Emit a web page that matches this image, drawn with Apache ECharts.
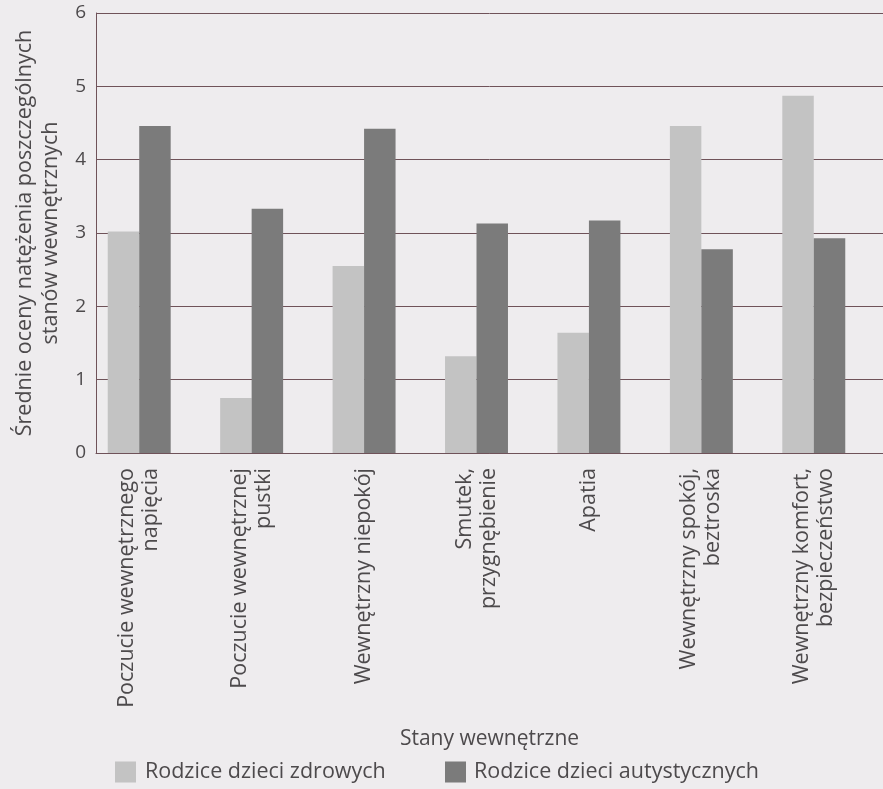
<!DOCTYPE html>
<html><head><meta charset="utf-8">
<script src="https://cdn.jsdelivr.net/npm/echarts@6/dist/echarts.min.js"></script>
<style>html,body{margin:0;padding:0;background:#eeecee;}#c{width:883px;height:789px;}</style>
</head><body><div id="c"></div>
<script>
const categories = [
  'Poczucie wewnętrznego\nnapięcia',
  'Poczucie wewnętrznej\npustki',
  'Wewnętrzny niepokój',
  'Smutek,\nprzygnębienie',
  'Apatia',
  'Wewnętrzny spokój,\nbeztroska',
  'Wewnętrzny komfort,\nbezpieczeństwo'
];
const healthy = [3.02, 0.75, 2.55, 1.32, 1.64, 4.46, 4.87];
const autistic = [4.46, 3.33, 4.42, 3.13, 3.17, 2.78, 2.93];
const seriesNames = ['Rodzice dzieci zdrowych', 'Rodzice dzieci autystycznych'];
const yMin = 0, yMax = 6, yStep = 1;
const yTitle = 'Średnie oceny natężenia poszczególnych\nstanów wewnętrznych';
const xTitle = 'Stany wewnętrzne';

const lineColor = '#6f5259';
const textColor = '#4d4a4c';
const regFont = "'Open Sans', 'Noto Sans', sans-serif";
const narrowFont = "'Liberation Sans Narrow', 'Open Sans', sans-serif";
const lightColor = '#c3c3c3';
const darkColor = '#7b7b7b';

const chart = echarts.init(document.getElementById('c'), null, {renderer: 'canvas'});
chart.setOption({
  backgroundColor: '#eeecee',
  animation: false,
  grid: [
    {left: 83, right: 13, top: 13, bottom: 336},
    {left: 96, right: 0, top: 13, bottom: 336}
  ],
  xAxis: [
    {
      type: 'category', gridIndex: 0, data: categories,
      axisLine: {show: false}, axisTick: {show: false},
      axisLabel: {rotate: 90, fontSize: 21.5, lineHeight: 24, margin: 15,
        color: textColor, fontFamily: regFont, interval: 0}
    },
    {
      type: 'category', gridIndex: 1, data: categories,
      axisLine: {show: true, lineStyle: {color: lineColor, width: 1}},
      axisTick: {show: false}, axisLabel: {show: false},
      name: xTitle, nameLocation: 'middle', nameGap: 276,
      nameTextStyle: {fontSize: 21, color: textColor, fontFamily: narrowFont, verticalAlign: 'top'}
    }
  ],
  yAxis: [
    {type: 'value', gridIndex: 0, min: yMin, max: yMax, interval: yStep, show: false},
    {
      type: 'value', gridIndex: 1, min: yMin, max: yMax, interval: yStep,
      axisLine: {show: true, lineStyle: {color: lineColor, width: 1}},
      axisTick: {show: false},
      splitLine: {show: true, lineStyle: {color: lineColor, width: 1}},
      axisLabel: {fontSize: 19, color: textColor, fontFamily: regFont, margin: 10},
      name: yTitle, nameLocation: 'middle', nameRotate: 90, nameGap: 32,
      nameTextStyle: {fontSize: 21.5, lineHeight: 26, color: textColor, fontFamily: regFont, align: 'center'}
    }
  ],
  legend: [
    {data: [seriesNames[0]], left: 110, top: 756, itemWidth: 21, itemHeight: 21,
     icon: 'rect', textStyle: {fontSize: 21.5, color: textColor, fontFamily: narrowFont, padding: [0,0,0,4]}},
    {data: [seriesNames[1]], left: 440, top: 756, itemWidth: 21, itemHeight: 21,
     icon: 'rect', textStyle: {fontSize: 21.5, color: textColor, fontFamily: narrowFont, padding: [0,0,0,3]}}
  ],
  series: [
    {name: seriesNames[0], type: 'bar', xAxisIndex: 0, yAxisIndex: 0, data: healthy,
     itemStyle: {color: lightColor}, barGap: '0%', barCategoryGap: '44%'},
    {name: seriesNames[1], type: 'bar', xAxisIndex: 0, yAxisIndex: 0, data: autistic,
     itemStyle: {color: darkColor}, barGap: '0%', barCategoryGap: '44%'}
  ]
});
</script></body></html>
